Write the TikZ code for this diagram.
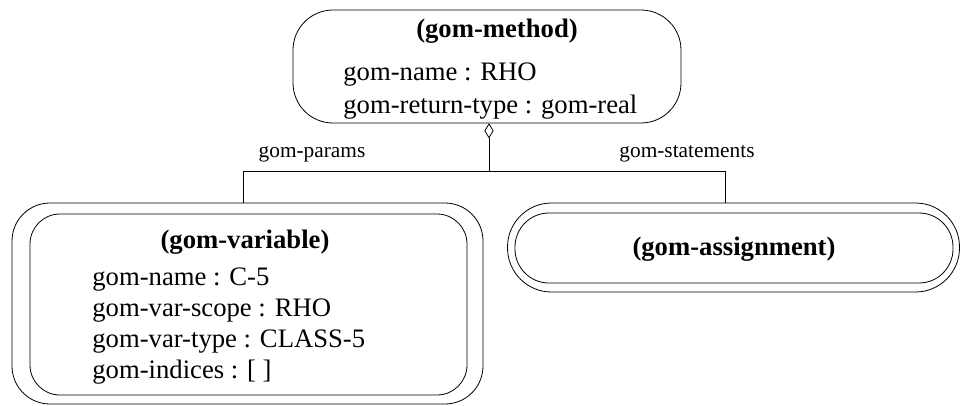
\documentclass[tikz,border=0pt]{standalone}
\usepackage{fontspec}
\setmainfont{Liberation Serif}
\usetikzlibrary{shapes.geometric,positioning}

\tikzset{
  box/.style={draw,line width=0.6pt,inner sep=0pt},
  title/.style={anchor=base,inner sep=0pt,font=\fontsize{20}{24}\selectfont\bfseries},
  attr/.style={anchor=base west,inner sep=0pt,font=\fontsize{20}{24}\selectfont},
  role/.style={anchor=base,inner sep=0pt,font=\fontsize{16}{19}\selectfont},
  agg/.style={diamond,draw,line width=0.6pt,inner sep=0pt,minimum width=6.5pt,minimum height=10.5pt},
}

\begin{document}
\begin{tikzpicture}[x=0.75pt,y=-0.75pt,line width=0.6pt]
  % Picture coordinates are pixels, y grows downwards.
  \useasboundingbox (0,0) rectangle (961,405);

  % The method object.
  \node[box,rounded corners=30pt,minimum width=291pt,minimum height=84.75pt] (method) at (487,66.5) {};
  \node[title] (methodtitle) at (497,37) {(gom-method)};
  \node[attr] (methodname) at (343,80) {gom-name : RHO};
  \node[attr] (methodtype) at (343,113) {gom-return-type : gom-real};

  % The parameter (double outline).
  \node[box,rounded corners=28.5pt,minimum width=353.25pt,minimum height=150.75pt] (varouter) at (247.5,303.5) {};
  \node[box,rounded corners=22.5pt,minimum width=327.75pt,minimum height=135.75pt] (varinner) at (248.5,304.5) {};
  \node[title] (vartitle) at (245,248) {(gom-variable)};
  \foreach \txt [count=\i] in {gom-name : C-5,gom-var-scope : RHO,gom-var-type : CLASS-5,{gom-indices : [ ]}}{
    \node[attr] (varattr\i) at (92,{285+31*(\i-1)}) {\txt};
  }

  % The statement (double outline).
  \node[box,rounded corners=33pt,minimum width=339pt,minimum height=66.75pt] (asgouter) at (733.5,247.5) {};
  \node[box,rounded corners=25.5pt,minimum width=328.5pt,minimum height=52.5pt] (asginner) at (734,248) {};
  \node[title] (asgtitle) at (734,255) {(gom-assignment)};

  % Aggregation fork.
  \node[agg,below=0pt of method.south,anchor=north,xshift=1.5pt] (diam) {};
  \coordinate (fork) at (diam |- 0,171);
  \coordinate (forkleft) at (243,171);
  \coordinate (forkright) at (725,171);
  \draw (diam.south) -- (fork);
  \draw (varouter.north -| forkleft) -- (forkleft) -- (forkright) -- (forkright |- asgouter.north);

  % Role names.
  \node[role] (params) at (312,157) {gom-params};
  \node[role] (stmts) at (687,157) {gom-statements};
\end{tikzpicture}
\end{document}
